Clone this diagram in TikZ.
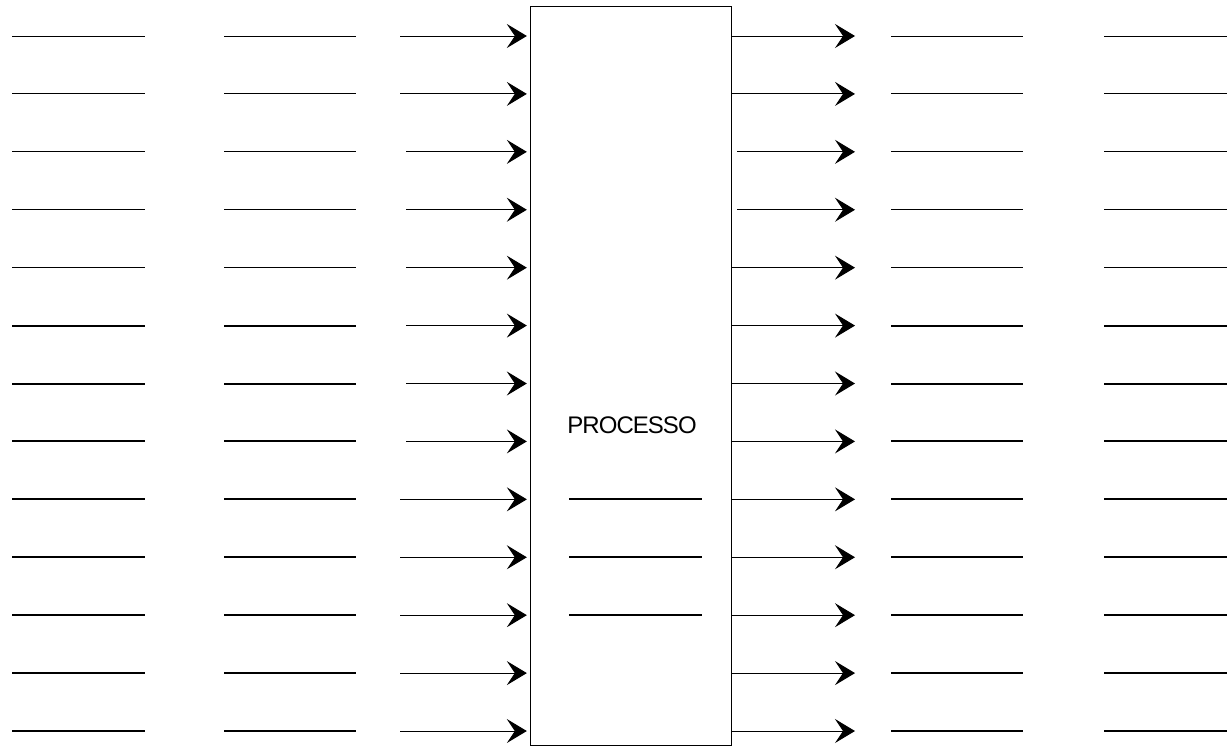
\documentclass[tikz,border=0pt]{standalone}
\usepackage{fontspec}
\setmainfont{Liberation Sans}
\newfontfamily\stretto[LetterSpace=-4]{Liberation Sans}
\usepackage{tikz}
\usetikzlibrary{arrows.meta}
\tikzset{
    riga/.style={line width=0.75pt},
    rigaspessa/.style={line width=1.5pt},
    freccia/.style={
        line width=0.75pt,
        -{Stealth[length=15pt,width=18pt,inset=6pt]}
    },
    blocco/.style={
        draw, line width=0.75pt, inner sep=0pt,
        minimum width=150.75pt, minimum height=554.25pt
    }
}

\begin{document}
\begin{tikzpicture}[x=0.75pt,y=-0.75pt]

\useasboundingbox (0,0) rectangle (1227,747);

% Blocco centrale
\node[blocco] (processo) at (630.5,375.5) {};
\node[font=\stretto\fontsize{18}{20}\selectfont] (etichetta) at (632,425) {PROCESSO};

% Righe dentro il blocco
\foreach \y in {499,557,615}
    \draw[rigaspessa] (569,\y) -- (702,\y);

% Righe e frecce
\foreach \i/\xa/\xb in {1/400/731,2/400/731,3/406/737,4/406/737,5/406/731,
                        6/406/731,7/406/731,8/406/731,9/400/731,10/400/731,
                        11/400/731,12/400/731,13/400/731}{
    \pgfmathsetmacro{\y}{36+57.917*(\i-1)}
    \ifnum\i<6 \def\stile{riga}\else\def\stile{rigaspessa}\fi
    % righe a sinistra
    \draw[\stile] (12,\y) -- (145,\y);
    \draw[\stile] (224,\y) -- (356,\y);
    % frecce in ingresso
    \coordinate (in\i) at (\xa,\y);
    \draw[freccia,shorten >=2pt] (in\i) -- (in\i -| processo.west);
    % frecce in uscita
    \coordinate (da\i) at (\xb,\y);
    \coordinate (out\i) at (855,\y);
    \draw[freccia] (da\i) -- (out\i);
    % righe a destra
    \draw[\stile] (891,\y) -- (1023,\y);
    \draw[\stile] (1104,\y) -- (1227,\y);
}

\end{tikzpicture}
\end{document}
